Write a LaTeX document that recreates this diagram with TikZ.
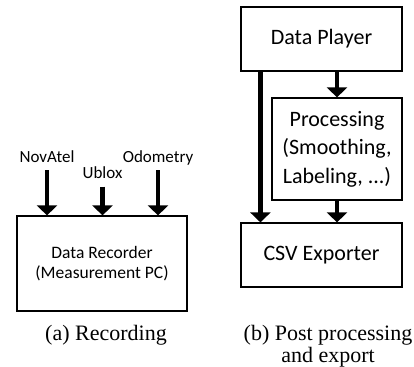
\documentclass[tikz,border=0pt]{standalone}
\usepackage{fontspec}
\setmainfont{Liberation Serif}
\newfontfamily\boxfont{Carlito}
\usetikzlibrary{arrows.meta}
\begin{document}
\begin{tikzpicture}[x=1pt, y=-1pt,
  blk/.style={draw,line width=1.2pt,align=center,inner sep=0pt,font=\boxfont\fontsize{22}{28.5}\selectfont},
  smallblk/.style={blk,font=\boxfont\fontsize{17.5}{20}\selectfont},
  sig/.style={font=\boxfont\fontsize{17}{20}\selectfont,anchor=base,inner sep=2pt,text depth=6pt},
  flow/.style={-{Triangle[width=20pt,length=10pt]},line width=4.5pt},
  capt/.style={font=\fontsize{22}{22.5}\selectfont,align=center,anchor=base}]
\useasboundingbox (0,0) rectangle (414,366);
% (a) recording
\node[smallblk,minimum width=170pt,minimum height=95pt] (rec) at (102,263.5) {Data Recorder\\(Measurement PC)};
\node[sig] (nov) at (47,162) {NovAtel}; \node[sig] (ubx) at (102.5,178.5) {Ublox}; \node[sig] (odo) at (158,162) {Odometry};
\draw[flow] (nov.south)--(nov.south |- rec.north); \draw[flow] (ubx.south)--(ubx.south |- rec.north); \draw[flow] (odo.south)--(odo.south |- rec.north);
\node[capt] (capa) at (106,340) {(a) Recording};
% (b) post processing
\node[blk,minimum width=161pt,minimum height=64pt] (player) at (321.5,39) {Data Player};
\node[blk,minimum width=130pt,minimum height=102pt] (proc) at (337,149) {Processing\\(Smoothing,\\Labeling, ...)};
\node[blk,minimum width=161pt,minimum height=64pt] (csv) at (321.5,255) {CSV Exporter};
\draw[flow] ([xshift=20pt]player.south west)--([xshift=20pt]csv.north west);
\draw[flow] (proc.north |- player.south)--(proc.north); \draw[flow] (proc.south)--(proc.south |- csv.north);
\node[capt] (capb) at (328,362.5) {(b) Post processing\\and export};
\end{tikzpicture}
\end{document}
